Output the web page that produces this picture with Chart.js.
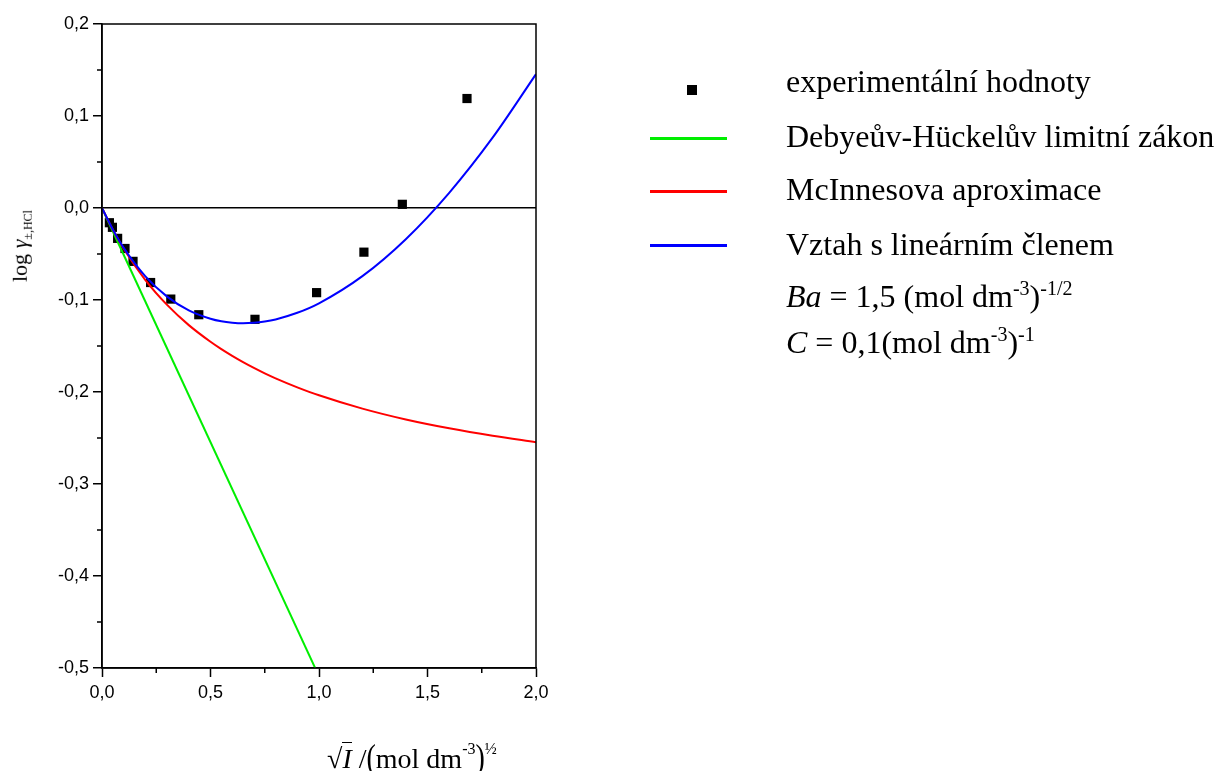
<!DOCTYPE html>
<html>
<head>
<meta charset="utf-8">
<script src="https://cdn.jsdelivr.net/npm/chart.js@4.4.1/dist/chart.umd.min.js"></script>
<style>
  html, body { margin:0; padding:0; background:#fff; }
  #wrap { position:relative; width:1216px; height:771px; overflow:hidden; }
  #c { position:absolute; left:0; top:0; }
  .serif { font-family:"Liberation Serif","Times New Roman",serif; color:#000; }
  .leg { position:absolute; left:786px; font-size:32px; line-height:32px; white-space:nowrap; }
  .leg sup { font-size:20px; position:relative; top:-2px; vertical-align:top; line-height:20px; }
  .swatch { position:absolute; left:650px; width:77px; height:3px; }
  .marker { position:absolute; left:687px; top:85px; width:10px; height:10px; background:#000; }
  #xtitle { position:absolute; left:327px; top:744px; font-size:28px; line-height:28px; white-space:nowrap; }
  #xtitle sup { font-size:16px; vertical-align:top; line-height:16px; position:relative; top:-3px; }
  #xtitle .par { display:inline-block; transform:scaleY(1.25); transform-origin:50% 70%; }
  #ytitle { position:absolute; left:24px; top:246px; font-size:22px; line-height:22px; white-space:nowrap;
            transform:translate(-50%,-50%) rotate(-90deg); }
  #ytitle sub { font-size:12px; }
</style>
</head>
<body>
<div id="wrap">
  <canvas id="c" width="1216" height="771"></canvas>

  <div class="marker"></div>
  <div class="leg serif" style="top:65px;">experimentální hodnoty</div>
  <div class="swatch" style="top:137px;background:#00ee00;"></div>
  <div class="leg serif" style="top:120px;">Debyeův-Hückelův limitní zákon</div>
  <div class="swatch" style="top:190px;background:#ff0000;"></div>
  <div class="leg serif" style="top:173px;">McInnesova aproximace</div>
  <div class="swatch" style="top:244px;background:#0000ff;"></div>
  <div class="leg serif" style="top:228px;">Vztah s lineárním členem</div>
  <div class="leg serif" style="top:280px;"><i>Ba</i> = 1,5 (mol dm<sup>-3</sup>)<sup>-1/2</sup></div>
  <div class="leg serif" style="top:326px;"><i>C</i> = 0,1(mol dm<sup>-3</sup>)<sup>-1</sup></div>

  <div id="xtitle" class="serif">√<span style="border-top:1.5px solid #000;font-style:italic;">I</span> /<span class="par">(</span>mol dm<sup>-3</sup><span class="par">)</span><sup>½</sup></div>
  <div id="ytitle" class="serif">log <i>γ</i><sub>±,HCl</sub></div>
</div>

<script>
// experimentální hodnoty
const expSqrtI = [0.034, 0.048, 0.072, 0.106, 0.143, 0.224, 0.317, 0.446, 0.705, 0.989, 1.207, 1.384, 1.682];
const expLogGamma = [-0.016, -0.021, -0.033, -0.044, -0.058, -0.081, -0.099, -0.116, -0.121, -0.092, -0.048, 0.004, 0.119];

// model curves
const curveSqrtI = [0, 0.05, 0.1, 0.2, 0.3, 0.4, 0.5, 0.55, 0.6, 0.65, 0.7, 0.75, 0.8, 0.9, 1.0, 1.2, 1.4, 1.6, 1.8, 2.0];
const mcinnesY = [0, -0.0237, -0.0443, -0.0783, -0.1053, -0.1273, -0.1454, -0.1534, -0.1607, -0.1675, -0.1738, -0.1797, -0.1851, -0.1949, -0.2036, -0.2181, -0.2299, -0.2395, -0.2476, -0.2545];
const linearTermY = [0, -0.0234, -0.0433, -0.0743, -0.0963, -0.1113, -0.1204, -0.1232, -0.1247, -0.1253, -0.1248, -0.1234, -0.1211, -0.1139, -0.1036, -0.0741, -0.0339, 0.0165, 0.0764, 0.1455];
const dhSqrtI = [0, 1.0];
const dhY = [0, -0.509];

const xTicksMajor = 0.5, yTicksMajor = 0.1;

const pts = (xs, ys) => xs.map((x, i) => ({ x: x, y: ys[i] }));
const isMajor = (v, step) => Math.abs(v / step - Math.round(v / step)) < 1e-6;
const fmt = v => (Math.abs(v) < 1e-9 ? 0 : v).toFixed(1).replace('.', ',');

// minor ticks shorter than major ones, plus the frame
const axesExtras = {
  id: 'axesExtras',
  afterDraw(chart) {
    const ctx = chart.ctx, a = chart.chartArea;
    ctx.save();
    ctx.strokeStyle = '#000';
    ctx.lineWidth = 1.5;
    ctx.strokeRect(a.left, a.top, a.right - a.left, a.bottom - a.top);
    const xs = chart.scales.x, ys = chart.scales.y;
    ctx.beginPath();
    xs.ticks.forEach(t => {
      if (isMajor(t.value, xTicksMajor)) return;
      const px = xs.getPixelForValue(t.value);
      ctx.moveTo(px, a.bottom); ctx.lineTo(px, a.bottom + 5);
    });
    ys.ticks.forEach(t => {
      if (isMajor(t.value, yTicksMajor)) return;
      const py = ys.getPixelForValue(t.value);
      ctx.moveTo(a.left, py); ctx.lineTo(a.left - 5, py);
    });
    ctx.stroke();
    ctx.restore();
  }
};

const tickFont = { family: '"Liberation Sans", Arial, sans-serif', size: 18 };

new Chart(document.getElementById('c'), {
  type: 'scatter',
  data: {
    datasets: [
      {
        label: 'experimentální hodnoty',
        data: pts(expSqrtI, expLogGamma),
        pointStyle: 'rect',
        pointRadius: 6.5,
        backgroundColor: '#000',
        borderColor: '#000',
        borderWidth: 0,
        order: 4
      },
      {
        label: 'Debyeův-Hückelův limitní zákon',
        data: pts(dhSqrtI, dhY),
        showLine: true,
        borderColor: '#00ee00',
        borderWidth: 2,
        pointRadius: 0,
        order: 3
      },
      {
        label: 'McInnesova aproximace',
        data: pts(curveSqrtI, mcinnesY),
        showLine: true,
        cubicInterpolationMode: 'monotone',
        borderColor: '#ff0000',
        borderWidth: 2,
        pointRadius: 0,
        order: 2
      },
      {
        label: 'Vztah s lineárním členem',
        data: pts(curveSqrtI, linearTermY),
        showLine: true,
        cubicInterpolationMode: 'monotone',
        borderColor: '#0000ff',
        borderWidth: 2,
        pointRadius: 0,
        order: 1
      }
    ]
  },
  options: {
    responsive: false,
    animation: false,
    layout: { padding: { left: 0, top: 24, right: 680, bottom: 0 } },
    plugins: { legend: { display: false }, tooltip: { enabled: false } },
    scales: {
      x: {
        type: 'linear',
        min: 0, max: 2,
        afterFit: s => { s.height = 103; },
        border: { display: true, color: '#000', width: 1.5 },
        grid: {
          drawOnChartArea: false,
          tickLength: 9,
          tickWidth: 1.5,
          tickColor: c => (c.tick && isMajor(c.tick.value, xTicksMajor)) ? '#000' : 'rgba(0,0,0,0)'
        },
        ticks: {
          stepSize: 0.25,
          autoSkip: false,
          maxRotation: 0,
          padding: 5,
          color: '#000',
          font: tickFont,
          callback: v => isMajor(v, xTicksMajor) ? fmt(v) : ''
        }
      },
      y: {
        type: 'linear',
        min: -0.5, max: 0.2,
        afterFit: s => { s.width = 102; },
        border: { display: true, color: '#000', width: 1.5 },
        grid: {
          drawOnChartArea: true,
          lineWidth: 1.5,
          color: c => (c.tick && Math.abs(c.tick.value) < 1e-9) ? '#000' : 'rgba(0,0,0,0)',
          tickLength: 9,
          tickWidth: 1.5,
          tickColor: c => (c.tick && isMajor(c.tick.value, yTicksMajor)) ? '#000' : 'rgba(0,0,0,0)'
        },
        ticks: {
          stepSize: 0.05,
          autoSkip: false,
          padding: 4,
          color: '#000',
          font: tickFont,
          callback: v => isMajor(v, yTicksMajor) ? fmt(v) : ''
        }
      }
    }
  },
  plugins: [axesExtras]
});
</script>
</body>
</html>
